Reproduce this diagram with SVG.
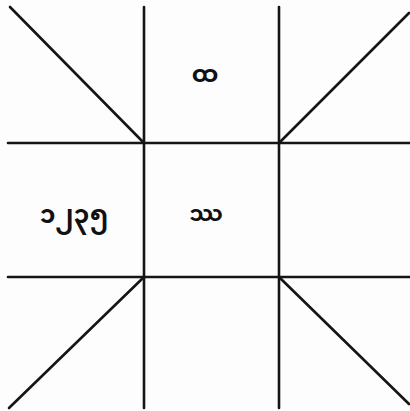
<svg xmlns="http://www.w3.org/2000/svg" width="410" height="411" viewBox="0 0 410 411">
<style>
.ln{stroke:#151515;stroke-width:2.6;stroke-linecap:round;fill:none}
.t{font-family:'Noto Sans Myanmar','Padauk','Myanmar Text',sans-serif;fill:#111;text-anchor:middle;font-weight:bold}
</style>
<rect width="410" height="411" fill="#fdfdfd"/>
<g id="connectors">
<line class="ln" x1="144" y1="7" x2="144" y2="408"/>
<line class="ln" x1="279" y1="7" x2="279" y2="408"/>
<line class="ln" x1="8" y1="143" x2="410" y2="143"/>
<line class="ln" x1="8" y1="277" x2="410" y2="277"/>
<line class="ln" x1="10" y1="7" x2="144" y2="143"/>
<line class="ln" x1="409" y1="13" x2="279" y2="143"/>
<line class="ln" x1="144" y1="277" x2="9" y2="408"/>
<line class="ln" x1="279" y1="277" x2="409" y2="404"/>
</g>
<g id="top"><text class="t" x="205" y="82" font-size="24">ထ</text></g>
<g id="center"><text class="t" x="206" y="221" font-size="22">ဿ</text></g>
<g id="left"><text class="t" x="74" y="223" font-size="25">၁၂၃၅</text></g>
</svg>
